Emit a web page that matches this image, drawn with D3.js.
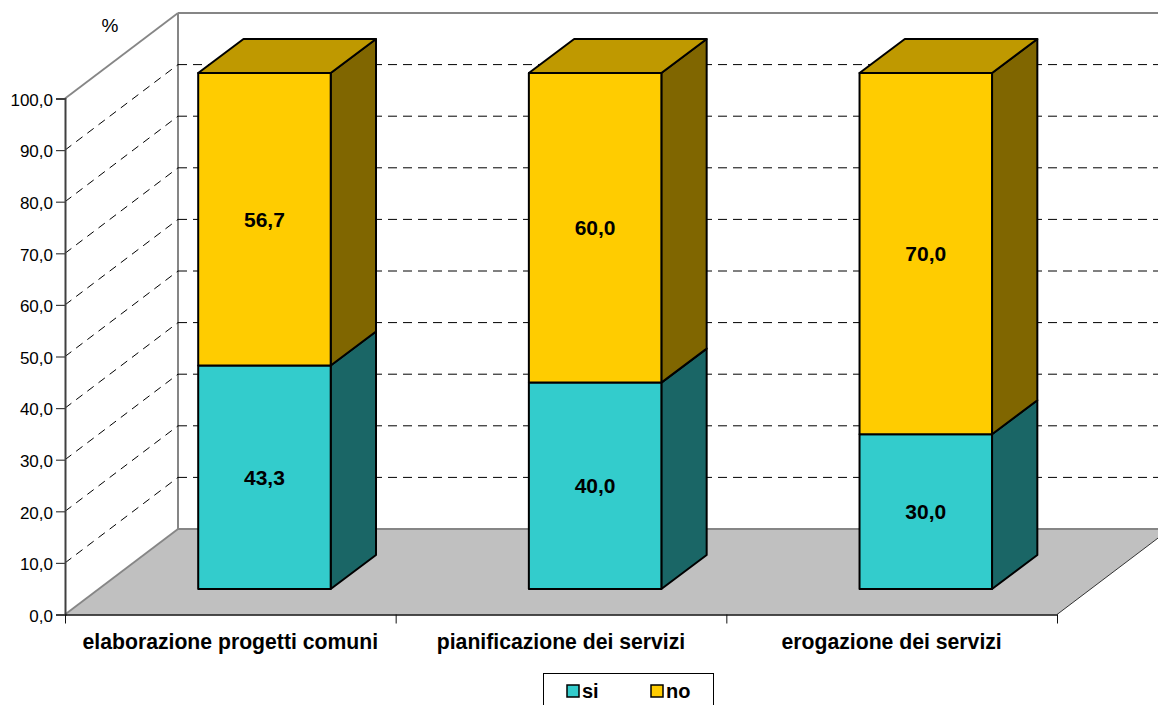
<!DOCTYPE html>
<html><head><meta charset="utf-8">
<script src="https://cdn.jsdelivr.net/npm/d3@7/dist/d3.min.js"></script>
<style>html,body{margin:0;padding:0;background:#fff;overflow:hidden}svg{display:block}text{font-family:"Liberation Sans",Arial,sans-serif;fill:#000}</style>
</head><body><svg id="c" width="1158" height="705"></svg>
<script>
const categories=["elaborazione progetti comuni","pianificazione dei servizi","erogazione dei servizi"];
const seriesNames=["si","no"];
const si=[43.3,40.0,30.0];
const no=[56.7,60.0,70.0];
const yTicks=[0,10,20,30,40,50,60,70,80,90,100];
const faceColors={si:["#33CCCC","#1A6666","#269999"],no:["#FFCC00","#806600","#BF9900"]};

const svg=d3.select("#c");
const fmt=v=>v.toFixed(1).replace(".",",");
const y=d3.scaleLinear().domain([0,100]).range([614.5,98.5]);
const x=d3.scaleBand().domain(categories).range([65,1057]);
const slot=d3.scaleLinear().domain([0,3]).range([65,1057]);
const D=[113,-85.5];               // full depth of the plot
const B={inset:133.2,dy:-25.5,w:132.5,ddx:45.3,ddy:-34}; // bar inset and bar depth
const H=y(0)-y(1);
const poly=p=>p.map(q=>q.join(",")).join(" ");
const x0=65,x1=1057,y0=y(0),y1=y(100);

// floor and walls
svg.append("polygon").attr("points",poly([[x0,y0],[x1,y0],[x1+D[0],y0+D[1]],[x0+D[0],y0+D[1]]])).attr("fill","#C0C0C0").attr("stroke","none");
svg.append("line").attr("x1",x1).attr("y1",y0).attr("x2",x1+D[0]).attr("y2",y0+D[1]).attr("stroke","#333").attr("stroke-width",1);
const wall="#868686";
svg.append("line").attr("x1",x0).attr("y1",y0).attr("x2",x0+D[0]).attr("y2",y0+D[1]).attr("stroke",wall).attr("stroke-width",1.8);
svg.append("line").attr("x1",x0+D[0]).attr("y1",y0+D[1]).attr("x2",1158).attr("y2",y0+D[1]).attr("stroke",wall).attr("stroke-width",1.8);
svg.append("line").attr("x1",x0).attr("y1",y1).attr("x2",x0+D[0]).attr("y2",y1+D[1]).attr("stroke",wall).attr("stroke-width",1.8);
svg.append("line").attr("x1",x0+D[0]).attr("y1",y1+D[1]).attr("x2",x0+D[0]).attr("y2",y0+D[1]).attr("stroke",wall).attr("stroke-width",2);
svg.append("line").attr("x1",x0+D[0]).attr("y1",y1+D[1]).attr("x2",1158).attr("y2",y1+D[1]).attr("stroke",wall).attr("stroke-width",2);

// gridlines
yTicks.filter(v=>v>0&&v<100).forEach(v=>{
  svg.append("line").attr("x1",x0).attr("y1",y(v)).attr("x2",x0+D[0]).attr("y2",y(v)+D[1]).attr("stroke","#000").attr("stroke-width",1).attr("stroke-dasharray","8 6");
  svg.append("line").attr("x1",x0+D[0]).attr("y1",y(v)+D[1]).attr("x2",1158).attr("y2",y(v)+D[1]).attr("stroke","#000").attr("stroke-width",1).attr("stroke-dasharray","9 6");
});

// bars
categories.forEach((c,i)=>{
  const l=x(c)+B.inset, r=l+B.w, base=y0+B.dy;
  let acc=0;
  [si[i],no[i]].forEach((v,k)=>{
    const name=seriesNames[k],col=faceColors[name];
    const top=base-(acc+v)*H,bot=base-acc*H;
    const g=svg.append("g").attr("stroke","#000").attr("stroke-width",2).attr("stroke-linejoin","round");
    g.append("polygon").attr("points",poly([[r,bot],[r+B.ddx,bot+B.ddy],[r+B.ddx,top+B.ddy],[r,top]])).attr("fill",col[1]);
    if(k===1) g.append("polygon").attr("points",poly([[l,top],[r,top],[r+B.ddx,top+B.ddy],[l+B.ddx,top+B.ddy]])).attr("fill",col[2]);
    g.append("rect").attr("x",l).attr("y",top).attr("width",B.w).attr("height",bot-top).attr("fill",col[0]);
    svg.append("text").attr("x",(l+r)/2).attr("y",(top+bot)/2).attr("dy","0.36em").attr("text-anchor","middle").attr("font-weight","bold").attr("font-size",21).text(fmt(v));
    acc+=v;
  });
});

// axes
const ax=svg.append("g").attr("transform",`translate(${x0},0)`).call(d3.axisLeft(y).tickValues(yTicks).tickFormat(fmt).tickSize(9).tickPadding(3));
ax.select(".domain").attr("stroke","#404040").attr("stroke-width",2);
ax.selectAll(".tick line").attr("stroke","#404040").attr("stroke-width",1.2);
ax.selectAll("text").attr("font-size",17).attr("font-family",'"Liberation Sans"').attr("fill","#000").attr("dy","0.4em");
const bx=svg.append("g").attr("transform",`translate(0,${y0})`).call(d3.axisBottom(slot).tickValues([0,1,2,3]).tickFormat("").tickSize(9).tickSizeOuter(0));
bx.select(".domain").attr("stroke","#111").attr("stroke-width",1.5);
bx.selectAll(".tick line").attr("stroke","#111").attr("stroke-width",1);
categories.forEach(c=>svg.append("text").attr("x",x(c)+x.bandwidth()/2).attr("y",649).attr("text-anchor","middle").attr("font-weight","bold").attr("font-size",21.2).text(c));

svg.append("text").attr("x",110).attr("y",32).attr("text-anchor","middle").attr("font-size",19).text("%");

// legend
svg.append("rect").attr("x",543.5).attr("y",673.5).attr("width",170).attr("height",40).attr("fill","#fff").attr("stroke","#000").attr("stroke-width",1);
seriesNames.forEach((n,i)=>{
  const lx=567+i*84;
  svg.append("rect").attr("x",lx).attr("y",685).attr("width",12).attr("height",12).attr("fill",faceColors[n][0]).attr("stroke","#000").attr("stroke-width",1.5);
  svg.append("text").attr("x",lx+15).attr("y",698).attr("font-weight","bold").attr("font-size",20).text(n);
});
</script></body></html>
